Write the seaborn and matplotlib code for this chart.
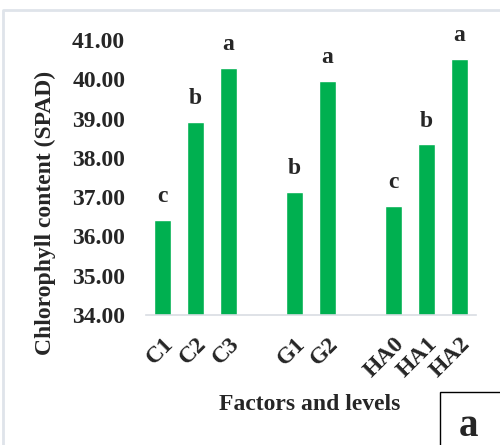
import pandas as pd
import matplotlib.pyplot as plt
import seaborn as sns
from matplotlib.lines import Line2D
from matplotlib.patches import Rectangle

# data
levels = ["C1", "C2", "C3", "G1", "G2", "HA0", "HA1", "HA2"]
spad = [36.42, 38.92, 40.28, 37.12, 39.95, 36.77, 38.34, 40.51]
letters = ["c", "b", "a", "b", "a", "c", "b", "a"]

# slot order with empty gaps between factor groups
order = ["C1", "C2", "C3", "_g1", "G1", "G2", "_g2", "HA0", "HA1", "HA2"]

df = pd.DataFrame({"level": levels, "spad": spad, "letter": letters})

sns.set_style("white")
plt.rcParams["font.family"] = ["Liberation Serif", "DejaVu Serif"]
plt.rcParams["font.weight"] = "bold"

fig = plt.figure(figsize=(5.0, 4.45), dpi=100)
ax = fig.add_axes([146 / 500, 1 - 315 / 445, 330 / 500, 275 / 445])

sns.barplot(data=df, x="level", y="spad", order=order, color="#00B050",
            width=0.5, saturation=1, ax=ax)

ax.set_ylim(34, 41)
ax.set_xlim(-0.5, 9.5)
ax.set_yticks(range(34, 42))
ax.set_yticklabels([f"{v:.2f}" for v in range(34, 42)], fontsize=17,
                   fontweight="bold")
ax.tick_params(axis="y", length=0, pad=15)
ax.tick_params(axis="x", length=0, pad=13)

ticks = ax.get_xticks()
ax.set_xticks(ticks)
ax.set_xticklabels([t if not t.startswith("_") else "" for t in order],
                   rotation=45, ha="right", rotation_mode="anchor",
                   fontsize=17, fontweight="bold")

# significance letters above bars
for lev, val, let in zip(levels, spad, letters):
    ax.text(order.index(lev), val + 0.33, let, ha="center", va="bottom",
            fontsize=17, fontweight="bold", clip_on=False)

for s in ["top", "right", "left"]:
    ax.spines[s].set_visible(False)
ax.spines["bottom"].set_color("#d9dde3")
ax.spines["bottom"].set_linewidth(1.2)
ax.set_xlabel("")
ax.set_ylabel("")

fig.text(45 / 500, 1 - 213 / 445, "Chlorophyll content (SPAD)", rotation=90,
         ha="center", va="center", fontsize=17, fontweight="bold")
fig.text(310 / 500, 1 - 405 / 445, "Factors and levels", ha="center",
         va="center", fontsize=17, fontweight="bold")

# outer frame lines
fig.add_artist(Line2D([3 / 500, 3 / 500, 1], [0, 1 - 10 / 445, 1 - 10 / 445],
                      transform=fig.transFigure, color="#dfe4ea", lw=2))

# panel label box
fig.add_artist(Rectangle((440 / 500, -0.01), 0.2, 0.01 + 53 / 445,
                         transform=fig.transFigure, fill=False,
                         edgecolor="black", lw=1))
fig.text(468 / 500, 1 - 427 / 445, "a", ha="center", va="center",
         fontsize=28, fontweight="bold")

fig.savefig("out.png", dpi=100)
